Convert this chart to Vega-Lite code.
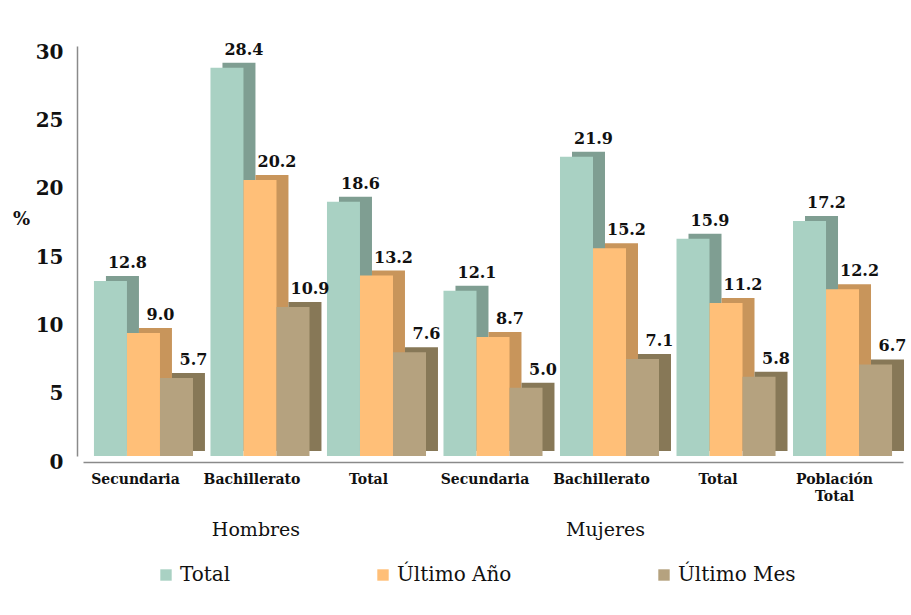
{
  "$schema": "https://vega.github.io/schema/vega-lite/v6.json",
  "width": 820,
  "height": 410,
  "autosize": {"type": "none"},
  "padding": {"left": 83, "top": 46, "right": 8, "bottom": 159},
  "background": "white",
  "data": {
    "values": [
      {"grupo": "Hombres Secundaria", "serie": "Total", "valor": 12.8},
      {"grupo": "Hombres Secundaria", "serie": "Último Año", "valor": 9.0},
      {"grupo": "Hombres Secundaria", "serie": "Último Mes", "valor": 5.7},
      {"grupo": "Hombres Bachillerato", "serie": "Total", "valor": 28.4},
      {"grupo": "Hombres Bachillerato", "serie": "Último Año", "valor": 20.2},
      {"grupo": "Hombres Bachillerato", "serie": "Último Mes", "valor": 10.9},
      {"grupo": "Hombres Total", "serie": "Total", "valor": 18.6},
      {"grupo": "Hombres Total", "serie": "Último Año", "valor": 13.2},
      {"grupo": "Hombres Total", "serie": "Último Mes", "valor": 7.6},
      {"grupo": "Mujeres Secundaria", "serie": "Total", "valor": 12.1},
      {"grupo": "Mujeres Secundaria", "serie": "Último Año", "valor": 8.7},
      {"grupo": "Mujeres Secundaria", "serie": "Último Mes", "valor": 5.0},
      {"grupo": "Mujeres Bachillerato", "serie": "Total", "valor": 21.9},
      {"grupo": "Mujeres Bachillerato", "serie": "Último Año", "valor": 15.2},
      {"grupo": "Mujeres Bachillerato", "serie": "Último Mes", "valor": 7.1},
      {"grupo": "Mujeres Total", "serie": "Total", "valor": 15.9},
      {"grupo": "Mujeres Total", "serie": "Último Año", "valor": 11.2},
      {"grupo": "Mujeres Total", "serie": "Último Mes", "valor": 5.8},
      {"grupo": "Población Total", "serie": "Total", "valor": 17.2},
      {"grupo": "Población Total", "serie": "Último Año", "valor": 12.2},
      {"grupo": "Población Total", "serie": "Último Mes", "valor": 6.7}
    ]
  },
  "encoding": {
    "y": {
      "field": "valor",
      "type": "quantitative",
      "scale": {"domain": [0, 30], "nice": false},
      "axis": {
        "values": [0, 5, 10, 15, 20, 25, 30],
        "grid": false,
        "ticks": false,
        "offset": 6,
        "domainColor": "#8a8a8a",
        "domainWidth": 1.5,
        "labelFont": "DejaVu Serif",
        "labelFontWeight": "bold",
        "labelFontSize": 20,
        "labelColor": "#111111",
        "labelPadding": 14,
        "labelOffset": 6,
        "title": "%",
        "titleAngle": 0,
        "titleFont": "DejaVu Serif",
        "titleFontWeight": "bold",
        "titleFontSize": 18,
        "titleColor": "#111111",
        "titleX": -56,
        "titleY": 173,
        "titleAlign": "center",
        "titleBaseline": "middle"
      }
    }
  },
  "layer": [
    {
      "mark": {"type": "bar", "yOffset": -5},
      "encoding": {
        "x": {
          "field": "grupo",
          "type": "nominal",
          "sort": ["Hombres Secundaria", "Hombres Bachillerato", "Hombres Total", "Mujeres Secundaria", "Mujeres Bachillerato", "Mujeres Total", "Población Total"],
          "scale": {"paddingInner": 0.15, "paddingOuter": 0.094},
          "axis": {
            "title": null,
            "ticks": false,
            "offset": 6,
            "domainColor": "#8a8a8a",
            "domainWidth": 1.5,
            "labelAngle": 0,
            "labelOffset": -8,
            "labelPadding": 10,
            "labelFont": "DejaVu Serif",
            "labelFontWeight": "bold",
            "labelFontSize": 14,
            "labelColor": "#111111",
            "labelLineHeight": 17,
            "labelExpr": "datum.value == 'Población Total' ? ['Población', 'Total'] : split(datum.value, ' ')[1]"
          }
        },
        "xOffset": {
          "field": "serie",
          "type": "nominal",
          "sort": ["Total", "Último Año", "Último Mes"],
          "scale": {"range": [12, 111]}
        },
        "color": {
          "field": "serie",
          "type": "nominal",
          "scale": {"domain": ["Total", "Último Año", "Último Mes"], "range": ["#7f9e92", "#c8955b", "#877857"]},
          "legend": null
        }
      }
    },
    {
      "mark": {"type": "bar"},
      "encoding": {
        "x": {
          "field": "grupo",
          "type": "nominal",
          "sort": ["Hombres Secundaria", "Hombres Bachillerato", "Hombres Total", "Mujeres Secundaria", "Mujeres Bachillerato", "Mujeres Total", "Población Total"],
          "axis": {
            "orient": "bottom",
            "title": null,
            "ticks": false,
            "domain": false,
            "labelAngle": 0,
            "labelOffset": -4,
            "labelPadding": 64,
            "labelFont": "DejaVu Serif",
            "labelFontSize": 19,
            "labelColor": "#111111",
            "labelExpr": "datum.value == 'Hombres Bachillerato' ? 'Hombres' : (datum.value == 'Mujeres Bachillerato' ? 'Mujeres' : '')"
          }
        },
        "xOffset": {
          "field": "serie",
          "type": "nominal",
          "sort": ["Total", "Último Año", "Último Mes"],
          "scale": {"paddingInner": 0, "paddingOuter": 0}
        },
        "color": {
          "field": "serie",
          "type": "nominal",
          "scale": {"domain": ["Total", "Último Año", "Último Mes"], "range": ["#a9d1c3", "#ffbf78", "#b5a27f"]},
          "legend": {
            "title": null,
            "orient": "none",
            "direction": "horizontal",
            "legendX": 73,
            "legendY": 519,
            "symbolType": "square",
            "symbolSize": 130,
            "symbolStrokeWidth": 0,
            "labelFont": "DejaVu Serif",
            "labelFontSize": 20,
            "labelColor": "#111111",
            "labelOffset": 4,
            "columnPadding": 142
          }
        }
      }
    },
    {
      "mark": {"type": "text", "dx": 17, "dy": -10, "baseline": "bottom", "font": "DejaVu Serif", "fontWeight": "bold", "fontSize": 16, "color": "#111111"},
      "encoding": {
        "x": {
          "field": "grupo",
          "type": "nominal",
          "sort": ["Hombres Secundaria", "Hombres Bachillerato", "Hombres Total", "Mujeres Secundaria", "Mujeres Bachillerato", "Mujeres Total", "Población Total"],
          "axis": null
        },
        "xOffset": {
          "field": "serie",
          "type": "nominal",
          "sort": ["Total", "Último Año", "Último Mes"]
        },
        "text": {"field": "valor", "type": "quantitative", "format": ".1f"}
      }
    }
  ],
  "resolve": {"scale": {"color": "independent", "xOffset": "independent"}, "axis": {"x": "independent"}},
  "config": {"view": {"stroke": null}}
}
